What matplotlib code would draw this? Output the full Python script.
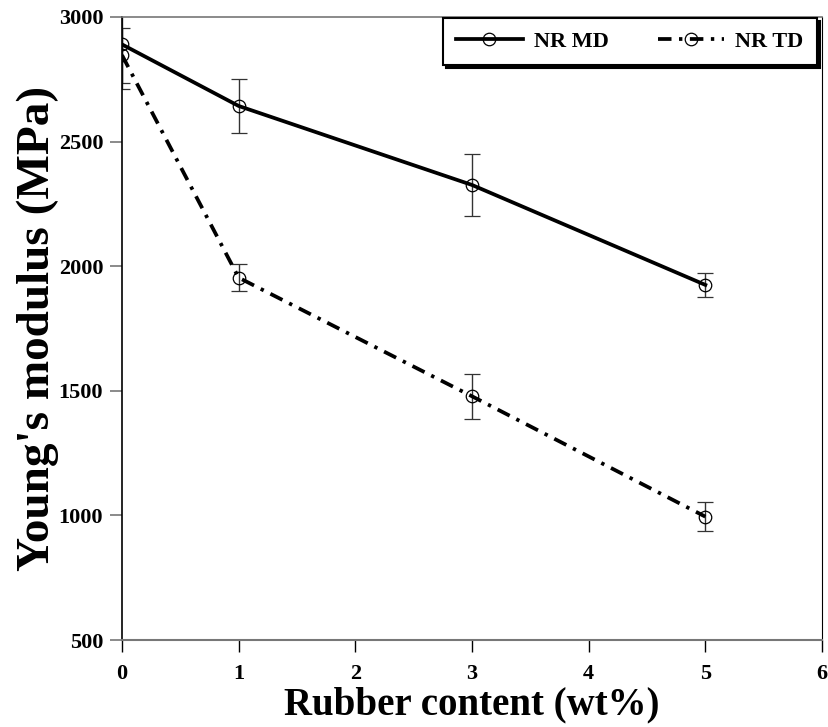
import matplotlib
matplotlib.use("Agg")
import matplotlib.pyplot as plt

# Young's modulus vs rubber content
rubber = [0, 1, 3, 5]
md_modulus = [2890, 2643, 2326, 1925]
md_err = [180, 110, 125, 47]
td_modulus = [2847, 1954, 1478, 995]
td_err = [110, 55, 90, 58]

x_ticks = [0, 1, 2, 3, 4, 5, 6]
y_ticks = [500, 1000, 1500, 2000, 2500, 3000]

plt.rcParams['font.family'] = ['Liberation Serif', 'DejaVu Serif']
plt.rcParams['font.weight'] = 'bold'

fig = plt.figure(figsize=(8.29, 7.27), dpi=100)
ax = fig.add_axes([122 / 829, 87 / 727, 700 / 829, 623 / 727])

md = ax.errorbar(rubber, md_modulus, yerr=md_err, color='k', lw=2.7, ls='-',
                 marker='o', ms=9, mfc='none', mec='k', mew=0.9,
                 ecolor='#333333', elinewidth=1, capsize=6, capthick=1)
td = ax.errorbar(rubber, td_modulus, yerr=td_err, color='k', lw=2.7,
                 dashes=(3.6, 2.0, 0.9, 2.0), marker='o', ms=9, mfc='none',
                 mec='k', mew=0.9, ecolor='#333333', elinewidth=1, capsize=6,
                 capthick=1)

ax.set_xlim(0, 6)
ax.set_ylim(500, 3000)
ax.set_xticks(x_ticks)
ax.set_yticks(y_ticks)

ax.spines['bottom'].set_color('#777777')
ax.spines['top'].set_color('#777777')
ax.spines['bottom'].set_linewidth(1.5)
ax.spines['top'].set_linewidth(1.2)
ax.spines['left'].set_linewidth(1.2)
ax.spines['right'].set_linewidth(0.8)

ax.tick_params(axis='x', direction='out', length=8.5, width=1, color='k',
               labelsize=16, pad=9)
ax.tick_params(axis='y', direction='out', length=8.5, width=1.2,
               color='#777777', labelsize=16, pad=5)

ax.set_xlabel('Rubber content (wt%)', fontsize=28, fontweight='bold',
              labelpad=1.5)
ax.set_ylabel("Young's modulus (MPa)", fontsize=34, fontweight='bold',
              labelpad=0)

leg = ax.legend(handles=[md.lines[0], td.lines[0]], labels=['NR MD', 'NR TD'],
                loc='upper right', bbox_to_anchor=(0.9929, 0.9984),
                borderaxespad=0, ncol=2, fontsize=16, frameon=True,
                fancybox=False, handlelength=3.0, handletextpad=0.5,
                columnspacing=2.2, borderpad=0.6,
                shadow={'facecolor': 'k', 'edgecolor': 'k', 'alpha': 1})
leg.get_frame().set_edgecolor('k')
leg.get_frame().set_linewidth(1.5)
for t in leg.get_texts():
    t.set_fontweight('bold')

fig.savefig('out.png', dpi=100)
